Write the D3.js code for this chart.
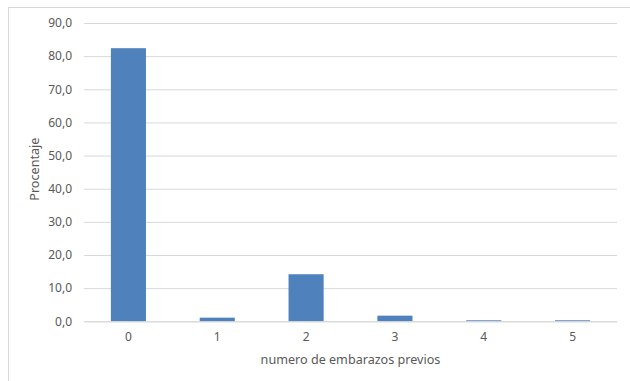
<!DOCTYPE html>
<html>
<head>
<meta charset="utf-8">
<script src="https://cdn.jsdelivr.net/npm/d3@7/dist/d3.min.js"></script>
<style>
  html, body { margin: 0; padding: 0; background: #fff; }
  svg { display: block; }
  text { font-family: "Noto Sans", "Open Sans", sans-serif; fill: #595959; }
</style>
</head>
<body>
<svg id="chart" width="630" height="381"></svg>
<script>
// Number of previous pregnancies and percentage of cases
const categories = ["0", "1", "2", "3", "4", "5"];
const percentages = [82.4, 1.1, 14.2, 1.7, 0.3, 0.3];
const yTicks = [0, 10, 20, 30, 40, 50, 60, 70, 80, 90];
const xTitle = "numero de embarazos previos";
const yTitle = "Procentaje";

const svg = d3.select("#chart");
const margin = { left: 84, right: 13, top: 23, bottom: 59.7 };
const W = 630, H = 381;

// chart frame
svg.append("rect")
  .attr("x", 8.5).attr("y", 7.5)
  .attr("width", 700).attr("height", 500)
  .attr("fill", "#fff").attr("stroke", "#d9d9d9").attr("stroke-width", 1);

const x = d3.scaleBand()
  .domain(categories)
  .range([margin.left, W - margin.right])
  .paddingInner(0.605).paddingOuter(0.3025);

const y = d3.scaleLinear()
  .domain([0, 90])
  .range([H - margin.bottom, margin.top]);

const fmt = v => d3.format(".1f")(v).replace(".", ",");

// horizontal gridlines + y labels
const yAxis = d3.axisLeft(y)
  .tickValues(yTicks)
  .tickSize(-(W - margin.right - margin.left))
  .tickPadding(12)
  .tickFormat(fmt);

const gy = svg.append("g")
  .attr("transform", `translate(${margin.left},0)`)
  .call(yAxis);
gy.select(".domain").remove();
gy.selectAll(".tick line").attr("stroke", "#d9d9d9").attr("stroke-width", 1);
gy.selectAll(".tick text").attr("font-size", 12).attr("fill", "#595959");

// bars
svg.append("g").selectAll("rect")
  .data(percentages)
  .join("rect")
  .attr("x", (d, i) => x(categories[i]))
  .attr("width", x.bandwidth())
  .attr("y", d => y(d))
  .attr("height", d => y(0) - y(d))
  .attr("fill", "#4f81bd");

// x axis
const gx = svg.append("g")
  .attr("transform", `translate(0,${y(0)})`)
  .call(d3.axisBottom(x).tickSize(0).tickPadding(11));
gx.select(".domain").attr("stroke", "#d9d9d9");
gx.selectAll(".tick text").attr("font-size", 12).attr("fill", "#595959");

// axis titles
svg.append("text")
  .attr("x", (margin.left + W - margin.right) / 2)
  .attr("y", 364)
  .attr("text-anchor", "middle")
  .attr("font-size", 12.6)
  .text(xTitle);

svg.append("text")
  .attr("transform", `translate(39,${(y(0) + y(90)) / 2 - 3}) rotate(-90)`)
  .attr("text-anchor", "middle")
  .attr("font-size", 12.6)
  .text(yTitle);
</script>
</body>
</html>
